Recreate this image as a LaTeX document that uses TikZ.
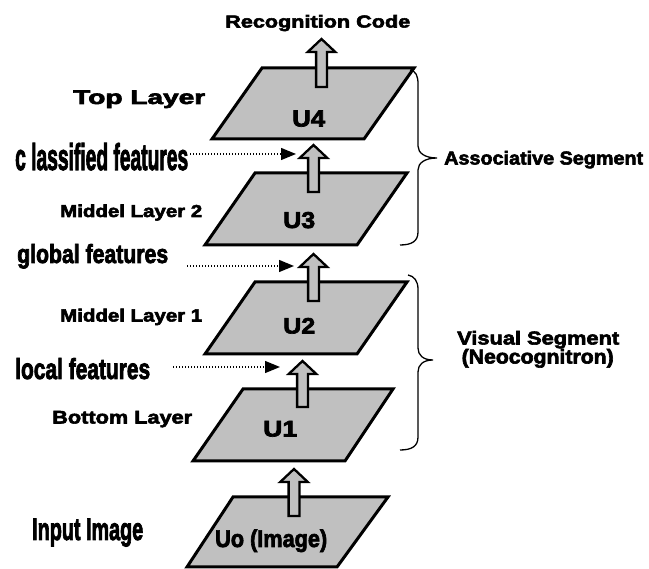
\documentclass[tikz,border=0pt]{standalone}
\usepackage{fontspec}
\setmainfont{Liberation Sans}
\newfontfamily\heavyfont{Liberation Sans Bold}[FakeBold=3]
\usepackage{graphicx}
\usetikzlibrary{arrows.meta, calc}

\definecolor{plate}{RGB}{192,192,192}

% heavy text squeezed into a box of given width and height (pt)
\newcommand{\boxtext}[3]{\resizebox{#1pt}{#2pt}{\heavyfont #3}}

\tikzset{
  layer/.style={draw, fill=plate, line width=3pt, line join=miter},
  lift/.style={draw, fill=plate, line width=2.3pt, line join=miter,
    to path={($(\tikztostart)+(-5.4,0)$) -- ($(\tikztotarget)+(-5.4,13)$)
      -- ($(\tikztotarget)+(-13.8,13)$) -- (\tikztotarget)
      -- ($(\tikztotarget)+(13.8,13)$) -- ($(\tikztotarget)+(5.4,13)$)
      -- ($(\tikztostart)+(5.4,0)$) -- cycle}},
  feed/.style={line width=1.3pt, dash pattern=on 1.3pt off 1.7pt,
    -{Triangle[length=15pt, width=12pt]}},
  brace/.style={line width=1.3pt},
  lbl/.style={anchor=base west, inner sep=0pt}
}

\begin{document}
\begin{tikzpicture}[x=1pt, y=-1pt]
  \useasboundingbox (0,0) rectangle (649,569);

  % layers, bottom to top
  \draw[layer] (187,567) -- ++(150,0) -- ++(51,-70) -- ++(-155,0) -- cycle;
  \draw[layer] (193,461) -- ++(152,0) -- ++(48,-72) -- ++(-150,0) -- cycle;
  \draw[layer] (205,354) -- ++(152,0) -- ++(50,-72) -- ++(-152,0) -- cycle;
  \draw[layer] (205,245) -- ++(152,0) -- ++(50,-72) -- ++(-152,0) -- cycle;
  \draw[layer] (212,139) -- ++(152,0) -- ++(50,-71) -- ++(-152,0) -- cycle;

  \node[lbl] (u0) at (215,547) {\boxtext{112}{17.5}{Uo (Image)}};
  \node[lbl] (u1) at (263,436.5) {\boxtext{34}{15.5}{U1}};
  \node[lbl] (u2) at (283,333.5) {\boxtext{32}{15.5}{U2}};
  \node[lbl] (u3) at (283,228) {\boxtext{32}{16}{U3}};
  \node[lbl] (u4) at (292,126.5) {\boxtext{33}{16}{U4}};

  % upward arrows
  \coordinate (a0s) at (294,516);   \coordinate (a0e) at (294,469);
  \coordinate (a1s) at (302.5,407); \coordinate (a1e) at (302.5,361);
  \coordinate (a2s) at (313.5,301); \coordinate (a2e) at (313.5,254);
  \coordinate (a3s) at (313.5,192); \coordinate (a3e) at (313.5,145);
  \coordinate (a4s) at (321.5,87);  \coordinate (a4e) at (321.5,39);
  \path[lift] (a0s) to (a0e);
  \path[lift] (a1s) to (a1e);
  \path[lift] (a2s) to (a2e);
  \path[lift] (a3s) to (a3e);
  \path[lift] (a4s) to (a4e);

  \node[lbl] (out) at (225,27.5) {\boxtext{185}{12.5}{Recognition Code}};

  % layer names
  \node[lbl] (top) at (73,104) {\boxtext{132}{13.5}{Top Layer}};
  \node[lbl] (mid2) at (60,217) {\boxtext{142}{12.5}{Middel Layer 2}};
  \node[lbl] (mid1) at (60,321.5) {\boxtext{142}{12.8}{Middel Layer 1}};
  \node[lbl] (bot) at (52,423.5) {\boxtext{140}{12.5}{Bottom Layer}};

  % features passed between layers
  \node[lbl] (cls) at (15,170) {\boxtext{173}{27}{c lassified features}};
  \node[lbl] (glob) at (17,263) {\boxtext{151}{19}{global features}};
  \node[lbl] (loc) at (15,379) {\boxtext{135}{21}{local features}};
  \node[lbl] (inp) at (32,540) {\boxtext{111}{21.5}{Input Image}};

  \coordinate (f1s) at (190,154); \coordinate (f1e) at (296,154);
  \coordinate (f2s) at (187,266); \coordinate (f2e) at (294,266);
  \coordinate (f3s) at (173,367); \coordinate (f3e) at (280,367);
  \draw[feed] (f1s) -- (f1e);
  \draw[feed] (f2s) -- (f2e);
  \draw[feed] (f3s) -- (f3e);

  % segment braces
  \draw[brace] (410,70) .. controls (416,71) and (418,76) .. (418,84)
    -- (418,146) .. controls (418,153) and (425,158) .. (437,158)
    .. controls (425,158) and (418,163) .. (418,170)
    -- (418,232) .. controls (418,241) and (412,245) .. (400,245);
  \draw[brace] (408,275) .. controls (414,276) and (418,281) .. (418,289)
    -- (418,348) .. controls (418,355) and (423,360) .. (433,360)
    .. controls (423,360) and (418,365) .. (418,372)
    -- (418,437) .. controls (418,446) and (412,450) .. (400,450);

  \node[lbl] (assoc) at (444,164.5) {\boxtext{199}{13.5}{Associative Segment}};
  \node[lbl] (vis) at (457,344.5) {\boxtext{162}{13.5}{Visual Segment}};
  \node[lbl] (neo) at (461.5,363.5) {\boxtext{152}{14.5}{(Neocognitron)}};
\end{tikzpicture}
\end{document}
